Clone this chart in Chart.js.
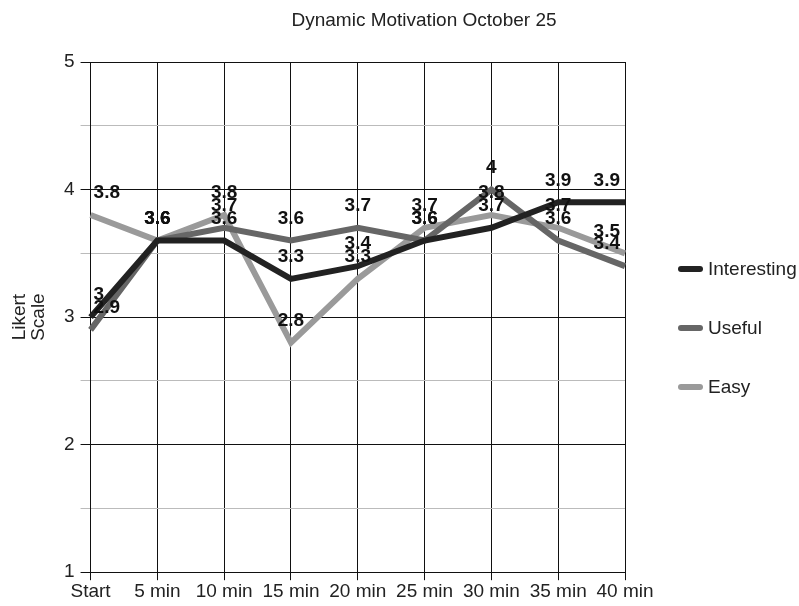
<!DOCTYPE html>
<html><head><meta charset="utf-8">
<script src="https://cdn.jsdelivr.net/npm/chart.js@4/dist/chart.umd.min.js"></script>
<style>html,body{margin:0;padding:0;background:#fff}</style>
</head><body>
<canvas id="c" width="799" height="606"></canvas>
<script>
const categories = ['Start', '5 min', '10 min', '15 min', '20 min', '25 min', '30 min', '35 min', '40 min'];
const interesting = [3, 3.6, 3.6, 3.3, 3.4, 3.6, 3.7, 3.9, 3.9];
const useful = [2.9, 3.6, 3.7, 3.6, 3.7, 3.6, 4, 3.6, 3.4];
const easy = [3.8, 3.6, 3.8, 2.8, 3.3, 3.7, 3.8, 3.7, 3.5];
const yTickLabels = [1, 2, 3, 4, 5];
const seriesNames = ['Interesting', 'Useful', 'Easy'];
const seriesColors = ['#222222', '#666666', '#9a9a9a'];
const chartTitle = 'Dynamic Motivation October 25';
const yTitle = ['Likert', 'Scale'];

const FONT = '"Liberation Sans", Arial, sans-serif';

const extras = {
  id: 'extras',
  afterDatasetsDraw(chart) {
    const ctx = chart.ctx;
    const area = chart.chartArea;
    ctx.save();
    // data labels
    ctx.font = 'bold 19px ' + FONT;
    ctx.fillStyle = '#111';
    ctx.textAlign = 'left';
    ctx.textBaseline = 'middle';
    chart.data.datasets.forEach((ds, i) => {
      const meta = chart.getDatasetMeta(i);
      meta.data.forEach((pt, j) => {
        const txt = String(ds.data[j]);
        const w = ctx.measureText(txt).width;
        let x = pt.x - w / 2;
        x = Math.max(area.left + 3, Math.min(area.right - 5 - w, x));
        ctx.fillText(txt, x, pt.y - 22);
      });
    });
    // title
    ctx.font = '19px ' + FONT;
    ctx.fillStyle = '#222';
    ctx.textAlign = 'center';
    ctx.fillText(chartTitle, 424, 21);
    // legend
    ctx.textAlign = 'left';
    chart.data.datasets.forEach((ds, i) => {
      const y = 328 + (i - 1) * 59;
      const x0 = area.right + 56;
      ctx.strokeStyle = ds.borderColor;
      ctx.lineWidth = 6;
      ctx.lineCap = 'round';
      ctx.beginPath();
      ctx.moveTo(x0, y);
      ctx.lineTo(x0 + 19, y);
      ctx.stroke();
      ctx.fillStyle = '#222';
      ctx.fillText(ds.label, x0 + 27, y + 1);
    });
    ctx.restore();
  }
};

const mk = (label, data, color) => ({
  label, data, borderColor: color, backgroundColor: color,
  borderWidth: 6, pointRadius: 0, tension: 0, fill: false
});

new Chart(document.getElementById('c'), {
  type: 'line',
  data: {
    labels: categories,
    datasets: [
      mk(seriesNames[0], interesting, seriesColors[0]),
      mk(seriesNames[1], useful, seriesColors[1]),
      mk(seriesNames[2], easy, seriesColors[2])
    ]
  },
  options: {
    responsive: false,
    animation: false,
    layout: { padding: { left: 6, right: 174, top: 62, bottom: 3 } },
    plugins: { legend: { display: false }, title: { display: false }, tooltip: { enabled: false } },
    scales: {
      x: {
        offset: false,
        grid: { color: '#111', lineWidth: 1, tickLength: 8 },
        border: { color: '#111' },
        ticks: { font: { family: FONT, size: 19 }, color: '#222', padding: 0, maxRotation: 0, autoSkip: false }
      },
      y: {
        min: 1, max: 5,
        ticks: {
          stepSize: 0.5,
          callback: v => yTickLabels.includes(v) ? String(v) : '',
          font: { family: FONT, size: 19 }, color: '#222', padding: 6
        },
        grid: { color: c => Number.isInteger(c.tick.value) ? '#111' : '#bbb', tickLength: 10 },
        border: { color: '#111' },
        title: { display: true, text: yTitle, font: { family: FONT, size: 19, lineHeight: 1.0 }, color: '#222', padding: { top: 4, bottom: 10 } }
      }
    }
  },
  plugins: [extras]
});
</script>
</body></html>
